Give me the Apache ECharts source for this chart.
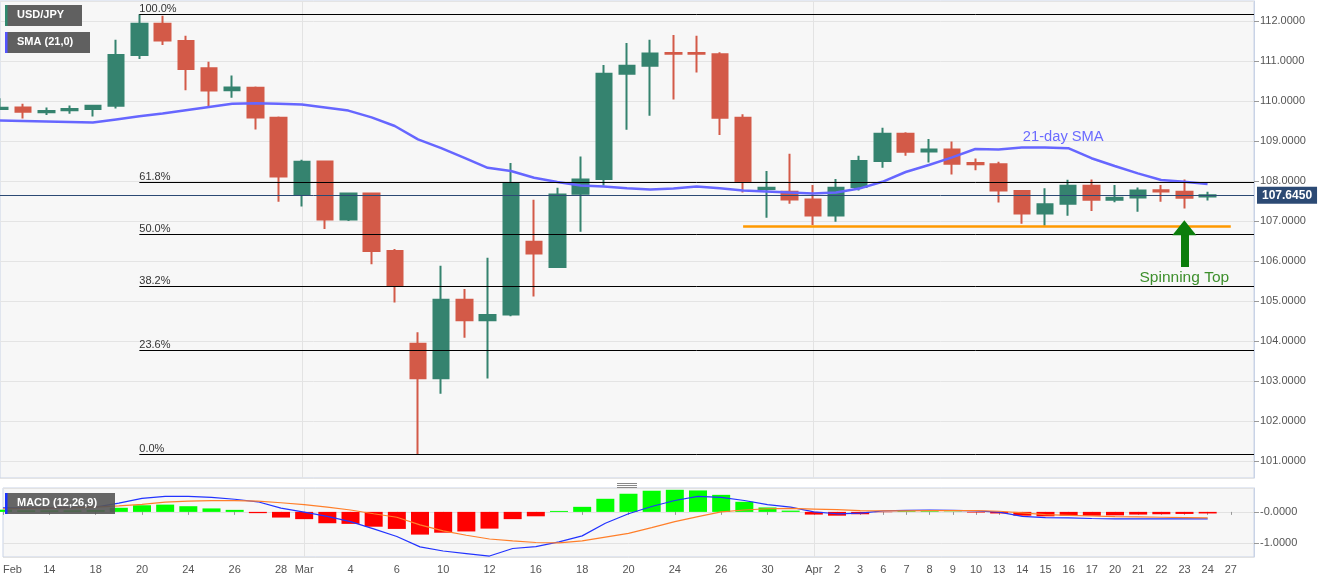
<!DOCTYPE html>
<html>
<head>
<meta charset="utf-8">
<script src="https://cdn.jsdelivr.net/npm/echarts@6/dist/echarts.min.js"></script>
<style>
html,body{margin:0;padding:0;background:#ffffff;}
#chart{width:1331px;height:583px;}
</style>
</head>
<body>
<div id="chart"></div>
<script>
// ---------- DATA ----------
const categories = ['Feb 12','Feb 13','Feb 14','Feb 17','Feb 18','Feb 19','Feb 20','Feb 21','Feb 24','Feb 25','Feb 26','Feb 27','Feb 28',
  'Mar 2','Mar 3','Mar 4','Mar 5','Mar 6','Mar 9','Mar 10','Mar 11','Mar 12','Mar 13','Mar 16','Mar 17','Mar 18','Mar 19','Mar 20',
  'Mar 23','Mar 24','Mar 25','Mar 26','Mar 27','Mar 30','Mar 31','Apr 1','Apr 2','Apr 3','Apr 6','Apr 7','Apr 8','Apr 9','Apr 10',
  'Apr 13','Apr 14','Apr 15','Apr 16','Apr 17','Apr 20','Apr 21','Apr 22','Apr 23','Apr 24','Apr 27','Apr 28'];

const tickLabels = ['Feb','','14','','18','','20','','24','','26','','28',
  'Mar','','4','','6','','10','','12','','16','','18','','20',
  '','24','','26','','30','','Apr','2','3','6','7','8','9','10',
  '13','14','15','16','17','20','21','22','23','24','27',''];

const open  = [109.80,109.84,109.72,109.77,109.80,109.88,111.15,111.93,111.50,110.82,110.27,110.33,109.58,
  107.65,108.49,107.04,107.69,106.25,103.93,103.07,105.03,104.52,104.66,106.48,105.85,107.68,108.05,110.68,
  110.88,111.20,111.20,111.17,109.58,107.80,107.73,107.54,107.14,107.85,108.50,109.18,108.74,108.79,108.45,
  108.42,107.75,107.19,107.43,107.88,107.53,107.59,107.77,107.73,107.61];
const high  = [110.07,109.93,109.84,109.89,109.90,111.53,112.17,112.13,111.63,110.98,110.64,110.36,109.61,
  108.53,108.50,107.71,107.70,106.30,104.22,105.88,105.30,106.08,108.45,107.53,107.83,108.61,110.90,111.45,
  111.53,111.65,111.63,111.22,109.67,108.25,108.68,107.90,108.05,108.63,109.33,109.22,109.05,108.99,108.56,
  108.48,107.76,107.82,108.03,108.04,107.90,107.84,107.90,108.04,107.73];
const low   = [109.78,109.56,109.65,109.68,109.61,109.81,111.05,111.40,110.27,109.86,110.08,109.29,107.48,
  107.36,106.80,107.00,105.92,104.96,101.17,102.68,104.08,103.06,104.62,105.11,105.83,106.73,107.89,109.28,
  109.63,110.04,110.71,109.15,107.71,107.08,107.43,106.90,106.98,107.76,108.33,108.63,108.46,108.16,108.27,
  107.46,106.93,106.88,107.13,107.25,107.47,107.23,107.48,107.31,107.51];
const close = [109.83,109.73,109.75,109.80,109.88,111.15,111.93,111.51,110.80,110.26,110.34,109.59,108.11,
  108.48,107.04,107.69,106.25,105.38,103.07,105.03,104.52,104.65,107.93,106.19,107.66,108.04,110.68,110.88,
  111.19,111.18,111.18,109.58,107.98,107.83,107.54,107.14,107.83,108.50,109.18,108.73,108.79,108.43,108.42,
  107.76,107.19,107.42,107.88,107.53,107.58,107.76,107.74,107.58,107.645];

const sma21 = [109.51,109.50,109.49,109.475,109.46,109.54,109.62,109.69,109.77,109.85,109.93,109.945,109.93,
  109.91,109.84,109.76,109.59,109.375,109.04,108.82,108.58,108.33,108.25,108.08,107.975,107.89,107.86,107.82,
  107.79,107.81,107.86,107.82,107.76,107.74,107.71,107.69,107.71,107.81,107.98,108.225,108.40,108.59,108.80,
  108.79,108.84,108.84,108.82,108.57,108.375,108.19,108.025,107.98,107.925];

const macdLine = [0.13,0.13,0.13,0.14,0.15,0.28,0.43,0.49,0.49,0.46,0.40,0.32,0.12,
  -0.01,-0.14,-0.31,-0.54,-0.78,-1.11,-1.24,-1.32,-1.40,-1.16,-1.10,-0.95,-0.76,-0.36,-0.06,
  0.17,0.36,0.49,0.46,0.36,0.23,0.15,0.0,-0.06,-0.04,0.03,0.05,0.06,0.05,0.03,
  -0.01,-0.14,-0.18,-0.19,-0.21,-0.22,-0.22,-0.22,-0.22,-0.22];
const signalLine = [0.10,0.11,0.12,0.13,0.15,0.19,0.24,0.31,0.34,0.36,0.36,0.34,0.29,
  0.23,0.15,0.06,-0.06,-0.17,-0.41,-0.60,-0.74,-0.86,-0.92,-0.97,-0.98,-0.92,-0.80,-0.68,
  -0.50,-0.31,-0.15,0.0,0.06,0.10,0.11,0.09,0.07,0.04,0.03,0.03,0.04,0.04,0.04,
  0.02,-0.03,-0.09,-0.11,-0.13,-0.15,-0.16,-0.17,-0.18,-0.19];
const macdHist = [0.07,0.05,0.05,0.05,0.06,0.13,0.21,0.23,0.18,0.11,0.064,-0.04,-0.18,
  -0.23,-0.36,-0.38,-0.47,-0.54,-0.72,-0.66,-0.62,-0.53,-0.23,-0.14,0.03,0.16,0.415,0.575,
  0.67,0.70,0.68,0.54,0.32,0.14,0.04,-0.085,-0.12,-0.075,-0.01,0.02,0.02,0.01,-0.02,
  -0.05,-0.12,-0.14,-0.12,-0.12,-0.11,-0.085,-0.075,-0.065,-0.05];

const fibLabels = ['100.0%','61.8%','50.0%','38.2%','23.6%','0.0%'];
const fibValues = [112.167,107.967,106.667,105.367,103.767,101.167];
const fibStartIndex = 6;          // Feb 20 high
const lastPrice = 107.645;
const supportLevel = 106.875;
const supportStart = 32, supportEnd = 53;
const arrowIndex = 51;            // Apr 23 spinning top
const arrowBase = 105.85, arrowShaftTop = 106.66, arrowHeadCenter = 106.83;
const spinningTopLabelY = 105.575;
const smaLabelIndex = 46, smaLabelY = 109.10;

// ---------- CHART ----------
const FONT = '"Liberation Sans", Arial, sans-serif';
const UP = '#35836f', DOWN = '#d35a48';
const BORDER = '#c9d3e6';
const chart = echarts.init(document.getElementById('chart'), null, {renderer: 'canvas'});

const candleData = open.map((o, i) => [o, close[i], low[i], high[i]]);
const lastCat = categories[categories.length - 1];

const fibLines = fibValues.map((v, i) => [
  {coord: [categories[fibStartIndex], v], label: {formatter: fibLabels[i]}},
  {coord: [lastCat, v]}
]);

const markLines = fibLines.concat([
  [{coord: [categories[supportStart], supportLevel], lineStyle: {color: '#ff9900', width: 2.5, type: 'solid'}, label: {show: false}},
   {coord: [categories[supportEnd], supportLevel]}],
  [{coord: [categories[arrowIndex], arrowBase], lineStyle: {color: '#0b7d0b', width: 8, type: 'solid', cap: 'butt'}, label: {show: false}},
   {coord: [categories[arrowIndex], arrowShaftTop]}],
  {yAxis: lastPrice, lineStyle: {color: '#2c4a74', width: 1, type: 'solid'},
   label: {show: true, position: 'end', formatter: lastPrice.toFixed(4), backgroundColor: '#2c4a74',
           color: '#ffffff', fontWeight: 'bold', fontSize: 12, fontFamily: FONT, padding: [3, 5, 2, 5], distance: 3}}
]);

const vSplit = (i) => tickLabels[i] === 'Mar' || tickLabels[i] === 'Apr';

const option = {
  animation: false,
  backgroundColor: '#ffffff',
  textStyle: {fontFamily: FONT},
  grid: [
    {left: 0, right: 77, top: 1, height: 477, show: true, backgroundColor: '#f7f7f7', borderColor: BORDER, borderWidth: 1},
    {left: 0, right: 77, top: 488, height: 69, show: true, backgroundColor: '#f7f7f7', borderColor: BORDER, borderWidth: 1}
  ],
  xAxis: [
    {type: 'category', gridIndex: 0, data: categories, boundaryGap: false,
     axisLine: {show: false}, axisTick: {show: false}, axisLabel: {show: false},
     splitLine: {show: true, interval: vSplit, lineStyle: {color: '#e3e3e3', width: 1}}},
    {type: 'category', gridIndex: 1, data: categories, boundaryGap: false,
     axisLine: {show: false},
     axisTick: {show: true, interval: (i) => tickLabels[i] !== '', length: 3, lineStyle: {color: '#999999'}},
     axisLabel: {show: true, interval: 0, formatter: (v, i) => tickLabels[i], color: '#555555', fontSize: 11,
                 fontFamily: FONT, margin: 7, alignMinLabel: 'left', showMinLabel: true},
     splitLine: {show: true, interval: vSplit, lineStyle: {color: '#e3e3e3', width: 1}}}
  ],
  yAxis: [
    {type: 'value', gridIndex: 0, position: 'right', min: 100.575, max: 112.5, minInterval: 1, maxInterval: 1,
     axisLine: {show: true, lineStyle: {color: BORDER}},
     axisTick: {show: true, length: 5, lineStyle: {color: '#999999'}},
     axisLabel: {formatter: (v) => v.toFixed(4), color: '#555555', fontSize: 11, fontFamily: FONT, margin: 6,
                 showMinLabel: false, showMaxLabel: false},
     splitLine: {show: true, lineStyle: {color: '#e4e4e4', width: 1}}},
    {type: 'value', gridIndex: 1, position: 'right', min: -1.43, max: 0.757, minInterval: 1, maxInterval: 1,
     axisLine: {show: true, lineStyle: {color: BORDER}},
     axisTick: {show: true, length: 5, lineStyle: {color: '#999999'}},
     axisLabel: {formatter: (v) => (Math.abs(v) < 1e-9 ? '-0.0000' : v.toFixed(4)), color: '#555555', fontSize: 11,
                 fontFamily: FONT, margin: 6, showMinLabel: false, showMaxLabel: false},
     splitLine: {show: true, lineStyle: {color: '#e2e2e2', width: 1}}}
  ],
  series: [
    {
      name: 'USD/JPY', type: 'candlestick', xAxisIndex: 0, yAxisIndex: 0, data: candleData,
      barWidth: 16, clip: true,
      itemStyle: {color: UP, color0: DOWN, borderColor: UP, borderColor0: DOWN, borderWidth: 2},
      markLine: {
        silent: true, symbol: ['none', 'none'], animation: false, precision: 4,
        lineStyle: {color: '#000000', width: 1, type: 'solid'},
        label: {show: true, position: 'insideStartTop', color: '#333333', fontSize: 11, fontFamily: FONT, distance: [0, 0]},
        emphasis: {disabled: true},
        data: markLines
      },
      markPoint: {
        silent: true, animation: false,
        data: [
          {coord: [categories[arrowIndex], arrowHeadCenter], symbol: 'triangle', symbolSize: [24, 15],
           itemStyle: {color: '#0b7d0b'}, label: {show: false}},
          {coord: [categories[arrowIndex], spinningTopLabelY], symbol: 'circle', symbolSize: 1,
           itemStyle: {color: 'rgba(0,0,0,0)'},
           label: {show: true, position: 'inside', formatter: 'Spinning Top', color: '#3d8f2c', fontSize: 15.5, fontFamily: FONT}},
          {coord: [categories[smaLabelIndex], smaLabelY], symbol: 'circle', symbolSize: 1,
           itemStyle: {color: 'rgba(0,0,0,0)'},
           label: {show: true, position: 'inside', offset: [-5, 0], formatter: '21-day SMA', color: '#6a6aff', fontSize: 14.7, fontFamily: FONT}}
        ]
      },
      z: 2
    },
    {
      name: 'SMA (21,0)', type: 'line', xAxisIndex: 0, yAxisIndex: 0, data: sma21,
      showSymbol: false, symbol: 'none', clip: true,
      lineStyle: {color: '#6666ff', width: 2.5}, z: 3
    },
    {
      name: 'Histogram', type: 'bar', xAxisIndex: 1, yAxisIndex: 1, barWidth: 18,
      data: macdHist.map(v => ({value: v, itemStyle: {color: v >= 0 ? '#00ff00' : '#ff0000'}})),
      z: 2
    },
    {
      name: 'MACD', type: 'line', xAxisIndex: 1, yAxisIndex: 1, data: macdLine,
      showSymbol: false, symbol: 'none', lineStyle: {color: '#2233ff', width: 1.2}, z: 3
    },
    {
      name: 'Signal', type: 'line', xAxisIndex: 1, yAxisIndex: 1, data: signalLine,
      showSymbol: false, symbol: 'none', lineStyle: {color: '#ff7f2a', width: 1.2}, z: 3
    }
  ],
  graphic: [
    {type: 'rect', shape: {x: 5, y: 5, width: 77, height: 21}, style: {fill: '#606060'}, z: 100},
    {type: 'rect', shape: {x: 5, y: 5, width: 2.5, height: 21}, style: {fill: '#2f8a6e'}, z: 101},
    {type: 'text', x: 17, y: 9, style: {text: 'USD/JPY', fill: '#ffffff', font: 'bold 11px "Liberation Sans", Arial, sans-serif', verticalAlign: 'top'}, z: 101},
    {type: 'rect', shape: {x: 5, y: 32, width: 85, height: 21}, style: {fill: '#606060'}, z: 100},
    {type: 'rect', shape: {x: 5, y: 32, width: 2.5, height: 21}, style: {fill: '#5555ff'}, z: 101},
    {type: 'text', x: 17, y: 36, style: {text: 'SMA (21,0)', fill: '#ffffff', font: 'bold 11px "Liberation Sans", Arial, sans-serif', verticalAlign: 'top'}, z: 101},
    {type: 'rect', shape: {x: 5, y: 493, width: 110, height: 21}, style: {fill: 'rgba(85,85,85,0.9)'}, z: 100},
    {type: 'rect', shape: {x: 5, y: 493, width: 2.5, height: 21}, style: {fill: '#1a33ff'}, z: 101},
    {type: 'text', x: 17, y: 497, style: {text: 'MACD (12,26,9)', fill: '#ffffff', font: 'bold 11px "Liberation Sans", Arial, sans-serif', verticalAlign: 'top'}, z: 101},
    {type: 'line', shape: {x1: 617, y1: 483.5, x2: 637, y2: 483.5}, style: {stroke: '#888888', lineWidth: 1}, z: 100},
    {type: 'line', shape: {x1: 617, y1: 485.5, x2: 637, y2: 485.5}, style: {stroke: '#888888', lineWidth: 1}, z: 100},
    {type: 'line', shape: {x1: 617, y1: 487.5, x2: 637, y2: 487.5}, style: {stroke: '#888888', lineWidth: 1}, z: 100}
  ]
};

chart.setOption(option);
</script>
</body>
</html>
